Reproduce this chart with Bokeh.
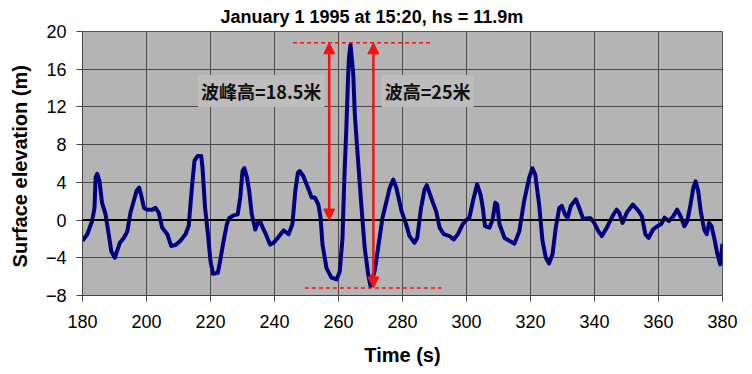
from bokeh.plotting import figure
from bokeh.models import (FixedTicker, Span, Label, Arrow, NormalHead, ColumnDataSource)
from bokeh.embed import file_html
from bokeh.resources import INLINE

# ---- data ----
time_s = [180.0, 181.5, 183.0, 183.75, 184.1, 184.6, 185.3, 186.1, 187.2, 188.2,
          189.0, 190.1, 190.8, 191.7, 192.9, 194.0, 195.0, 196.0, 196.9, 197.7,
          198.3, 199.2, 200.2, 201.8, 202.8, 203.8, 204.9, 206.5, 207.7, 209.1,
          210.6, 212.2, 213.2, 214.2, 215.0, 216.0, 217.1, 217.5, 218.3, 219.2,
          220.0, 220.8, 222.3, 223.0, 224.1, 225.1, 225.8, 227.2, 228.5, 229.3,
          230.0, 230.6, 231.4, 232.1, 232.9, 234.0, 234.8, 235.5, 236.3, 237.3,
          238.6, 239.7, 241.0, 242.8, 244.4, 245.6, 246.5, 247.3, 247.9, 249.0,
          250.5, 251.6, 252.6, 253.7, 254.4, 255.0, 256.25, 257.8, 259.4, 260.4,
          261.25, 261.8, 262.5, 263.0, 263.3, 263.75, 264.2, 264.6, 265.1, 266.2,
          267.2, 268.2, 269.3, 270.0, 271.3, 272.4, 273.75, 275.0, 276.0, 277.1,
          278.1, 279.7, 281.0, 282.2, 283.75, 284.6, 285.8, 286.9, 287.6, 288.4,
          289.5, 290.5, 291.6, 292.9, 294.7, 296.0, 297.3, 298.8, 299.9, 300.9,
          302.0, 303.3, 304.4, 305.1, 305.8, 307.2, 308.2, 309.0, 309.6, 310.3,
          311.9, 313.4, 315.0, 316.5, 318.0, 319.6, 320.6, 321.5, 322.7, 323.75,
          324.8, 325.8, 326.9, 327.9, 329.0, 329.8, 330.8, 331.6, 332.6, 334.2,
          335.2, 336.5, 337.8, 338.8, 339.9, 341.25, 342.3, 344.1, 345.6, 346.9,
          347.7, 348.75, 350.1, 352.0, 353.8, 354.8, 355.9, 356.9, 358.3, 359.6,
          360.8, 361.9, 363.2, 364.6, 365.8, 366.9, 368.1, 369.0, 370.0, 370.9,
          371.6, 372.4, 373.2, 374.25, 375.1, 375.8, 376.6, 377.6, 378.4, 379.3,
          380.0]
elevation_m = [-2.2, -1.5, -0.1, 1.3, 4.5, 4.9, 4.15, 1.85, 0.6, -1.5,
               -3.3, -4.0, -3.3, -2.4, -1.9, -1.2, 0.8, 2.0, 3.1, 3.45,
               2.7, 1.3, 1.1, 1.1, 1.3, 0.8, -0.8, -1.5, -2.75, -2.65,
               -2.2, -1.5, -0.6, 3.5, 6.3, 6.8, 6.8, 5.55, 1.3, -1.5,
               -4.35, -5.7, -5.6, -4.35, -2.2, -0.45, 0.2, 0.5, 0.6, 2.4,
               5.2, 5.5, 4.5, 3.1, 0.6, -1.0, -0.3, -0.1, -0.8, -1.5,
               -2.6, -2.4, -1.9, -1.1, -1.5, -0.45, 3.1, 5.0, 5.2, 4.65,
               3.4, 2.4, 2.4, 1.65, 0.25, -2.6, -5.1, -6.1, -6.3, -5.45,
               -1.9, 4.15, 10.2, 15.2, 17.3, 18.6, 17.0, 15.5, 11.2, 5.9,
               1.3, -3.0, -5.8, -7.0, -5.4, -2.9, 0.25, 2.0, 3.4, 4.3,
               3.4, 0.95, -0.3, -1.7, -2.4, -1.9, 1.3, 3.25, 3.7, 2.9,
               1.85, 0.95, -0.8, -1.5, -1.7, -2.05, -1.5, -0.45, 0.0, 0.25,
               2.0, 3.8, 2.7, 1.3, -0.65, -0.8, 0.1, 1.85, 1.65, -0.45,
               -1.9, -2.2, -2.5, -1.2, 2.0, 4.5, 5.5, 4.8, 1.65, -2.2,
               -4.0, -4.6, -3.6, -0.8, 1.3, 1.5, 0.6, 0.25, 1.5, 2.2,
               1.3, 0.1, 0.2, 0.2, -0.3, -1.2, -1.7, -0.65, 0.4, 1.1,
               0.8, -0.3, 0.8, 1.65, 0.95, 0.4, -1.5, -1.9, -1.0, -0.65,
               -0.45, 0.25, -0.1, 0.4, 1.1, 0.4, -0.65, -0.1, 1.65, 3.45,
               4.1, 3.1, 0.95, -1.0, -1.5, -0.3, -0.65, -2.2, -3.6, -4.7,
               -2.5]

x_ticks = [180, 200, 220, 240, 260, 280, 300, 320, 340, 360, 380]
y_ticks = [-8, -4, 0, 4, 8, 12, 16, 20]

# annotation values
crest_level = 18.8
trough_level = -7.2
crest_dash_x = [245.8, 289.2]
trough_dash_x = [249.5, 292.2]
crest_arrow_x = 257.1
height_arrow_x = 270.9
crest_label = "波峰高=18.5米"
height_label = "波高=25米"
title_text = "January 1 1995 at 15:20, hs = 11.9m"

RED = "#f01414"
NAVY = "#000080"

p = figure(width=752, height=374, x_range=(180, 380), y_range=(-8, 20),
           output_backend="svg", toolbar_location=None,
           min_border_left=82, min_border_right=30,
           min_border_top=30, min_border_bottom=79)
p.background_fill_color = "#b4b4b4"
p.border_fill_color = "white"
p.outline_line_color = "#555555"
p.outline_line_width = 1

p.title.text = title_text
p.title.align = "left"
p.title.offset = 138
p.title.text_font = "Liberation Sans"
p.title.text_font_style = "bold"
p.title.text_font_size = "18px"
p.title.text_color = "black"
p.title.standoff = 9

p.xaxis.ticker = FixedTicker(ticks=x_ticks)
p.yaxis.ticker = FixedTicker(ticks=y_ticks)
p.xgrid.ticker = FixedTicker(ticks=x_ticks)
p.ygrid.ticker = FixedTicker(ticks=y_ticks)
p.grid.grid_line_color = "#4a4a4a"
p.grid.grid_line_width = 1
p.grid.grid_line_alpha = 1.0

for ax in (p.xaxis, p.yaxis):
    ax.axis_line_color = "#444444"
    ax.major_tick_line_color = "#444444"
    ax.major_tick_out = 6
    ax.major_tick_in = 0
    ax.minor_tick_line_color = None
    ax.major_label_text_font = "Liberation Sans"
    ax.major_label_text_font_size = "18px"
    ax.major_label_text_color = "black"
    ax.axis_label_text_font = "Liberation Sans"
    ax.axis_label_text_font_style = "bold"
    ax.axis_label_text_font_size = "20px"
    ax.axis_label_text_color = "black"

p.xaxis.major_label_standoff = 13
p.yaxis.major_label_standoff = 10
p.xaxis.axis_label = "Time (s)"
p.yaxis.axis_label = "Surface elevation  (m)"
p.xaxis.axis_label_standoff = 13
p.yaxis.axis_label_standoff = 12

p.add_layout(Span(location=0, dimension="width", line_color="black", line_width=2))

src = ColumnDataSource(dict(t=time_s, h=elevation_m))
p.line("t", "h", source=src, line_color=NAVY, line_width=4, line_join="round")

# dashed reference lines
p.line(crest_dash_x, [crest_level, crest_level], line_color=RED, line_width=1.5, line_dash="4 3")
p.line(trough_dash_x, [trough_level, trough_level], line_color=RED, line_width=1.5, line_dash="4 3")

def head():
    return NormalHead(size=11, fill_color=RED, line_color=RED, line_width=1)

p.add_layout(Arrow(x_start=crest_arrow_x, y_start=0, x_end=crest_arrow_x, y_end=crest_level,
                   start=head(), end=head(), line_color=RED, line_width=2.5))
p.add_layout(Arrow(x_start=height_arrow_x, y_start=trough_level, x_end=height_arrow_x, y_end=crest_level,
                   start=head(), end=head(), line_color=RED, line_width=2.5))

for lx, txt in ((216.1, crest_label), (273.5, height_label)):
    p.add_layout(Label(x=lx, y=13.7, text=txt, text_align="left", text_baseline="middle",
                       text_font="Noto Sans CJK SC", text_font_style="bold",
                       text_font_size="18px", text_color="#111111",
                       background_fill_color="#bdbdbd", background_fill_alpha=1.0,
                       padding=3))

open("out.html", "w").write(file_html(p, INLINE))
